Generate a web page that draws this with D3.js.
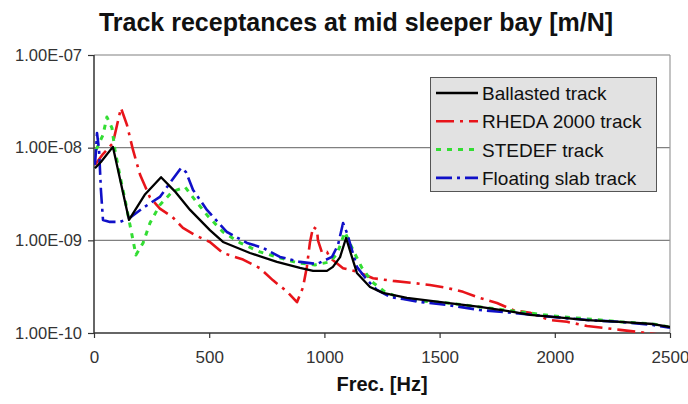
<!DOCTYPE html>
<html><head><meta charset="utf-8">
<script src="https://cdn.jsdelivr.net/npm/d3@7"></script>
<style>
html,body{margin:0;padding:0;background:#fff;}
svg{display:block;font-family:"Liberation Sans",Arial,sans-serif;}
</style></head>
<body><svg id="c" width="688" height="404"></svg>
<script>
// ---- data ----
const seriesNames = ["Ballasted track","RHEDA 2000 track","STEDEF track","Floating slab track"];
const xTicks = [0,500,1000,1500,2000,2500];
const yTicks = [1e-10,1e-9,1e-8,1e-7];
const yTickLabels = ["1.00E-10","1.00E-09","1.00E-08","1.00E-07"];

const ballasted = [[4,6.0e-9],[30,7.0e-9],[82,1.02e-8],[152,1.66e-9],[220,3.1e-9],[291,4.8e-9],[350,3.4e-9],[417,2.13e-9],[503,1.29e-9],[560,9.6e-10],[677,7.3e-10],[794,5.85e-10],[894,5.04e-10],[951,4.68e-10],[1011,4.68e-10],[1037,5.17e-10],[1068,6.6e-10],[1094,1.06e-9],[1141,4.45e-10],[1198,3.14e-10],[1254,2.71e-10],[1358,2.40e-10],[1532,2.11e-10],[1675,1.91e-10],[1819,1.69e-10],[1892,1.57e-10],[1992,1.49e-10],[2140,1.38e-10],[2283,1.32e-10],[2426,1.25e-10],[2500,1.16e-10]];

const rheda = [[4,6.5e-9],[35,8.3e-9],[82,1.12e-8],[117,2.68e-8],[143,1.76e-8],[169,9.5e-9],[200,5.1e-9],[243,2.9e-9],[286,2.2e-9],[339,1.8e-9],[386,1.36e-9],[438,1.14e-9],[503,9.6e-10],[560,7.3e-10],[647,6.2e-10],[720,5.0e-10],[777,3.7e-10],[838,2.8e-10],[881,2.15e-10],[907,3.1e-10],[924,5.2e-10],[937,9.4e-10],[951,1.4e-9],[968,1.3e-9],[972,1.0e-9],[990,7.3e-10],[1011,7.5e-10],[1024,6.5e-10],[1081,5.0e-10],[1141,4.6e-10],[1211,3.9e-10],[1298,3.65e-10],[1385,3.47e-10],[1458,3.3e-10],[1532,3.07e-10],[1602,2.78e-10],[1675,2.39e-10],[1749,2.11e-10],[1819,1.77e-10],[1892,1.65e-10],[1979,1.38e-10],[2053,1.32e-10],[2140,1.19e-10],[2209,1.14e-10],[2283,1.08e-10],[2357,1.03e-10],[2500,9.3e-11]];

const stedef = [[9,9.45e-9],[39,1.37e-8],[56,2.14e-8],[78,1.63e-8],[91,9.45e-9],[113,4.9e-9],[135,2.73e-9],[156,1.47e-9],[182,6.96e-10],[213,9.38e-10],[243,1.54e-9],[286,2.41e-9],[339,3.33e-9],[395,3.77e-9],[438,2.73e-9],[490,1.88e-9],[560,1.23e-9],[634,9.4e-10],[720,7.5e-10],[807,6.46e-10],[885,5.71e-10],[959,5.43e-10],[1024,5.85e-10],[1055,7.13e-10],[1089,1.23e-9],[1124,7.88e-10],[1163,5.04e-10],[1207,3.56e-10],[1263,2.78e-10],[1328,2.39e-10],[1415,2.22e-10],[1532,2.11e-10],[1675,1.91e-10],[1819,1.73e-10],[1992,1.53e-10],[2140,1.42e-10],[2283,1.32e-10],[2426,1.25e-10],[2500,1.16e-10]];

const floating = [[4,6.51e-9],[9,9.45e-9],[13,1.44e-8],[22,9.45e-9],[30,3.5e-9],[39,1.66e-9],[69,1.58e-9],[113,1.58e-9],[156,1.75e-9],[213,2.24e-9],[286,2.94e-9],[339,4.48e-9],[378,6.04e-9],[399,5.47e-9],[430,3.5e-9],[490,2.13e-9],[577,1.23e-9],[664,9.38e-10],[734,8.28e-10],[807,6.62e-10],[894,5.85e-10],[968,5.56e-10],[1033,6.62e-10],[1059,8.9e-10],[1081,1.54e-9],[1098,1.2e-9],[1141,5.17e-10],[1185,3.74e-10],[1228,2.92e-10],[1285,2.45e-10],[1341,2.33e-10],[1415,2.16e-10],[1532,2.01e-10],[1675,1.77e-10],[1819,1.65e-10],[1992,1.49e-10],[2140,1.38e-10],[2283,1.32e-10],[2426,1.22e-10],[2500,1.14e-10]];

const seriesData = [ballasted, rheda, stedef, floating];
const colors = ["#000000","#e8141a","#33dd33","#1010c8"];
const dashes = [null,"18,6,3,6","5,6","16,5,3,5"];
const widths = [2.3,2.6,3,2.6];

// ---- layout ----
const svg = d3.select("#c");
const L = 94, R = 670, T = 55, B = 333;
const x = d3.scaleLinear().domain([0,2500]).range([L,R]);
const y = d3.scaleLog().domain([1e-10,1e-7]).range([B,T]);

svg.append("text").attr("x",356).attr("y",31).attr("text-anchor","middle")
  .attr("font-size",25).attr("font-weight","bold").attr("fill","#111")
  .text("Track receptances at mid sleeper bay [m/N]");

// gridlines
svg.append("g").selectAll("line").data(yTicks.filter(v=>v>1e-10)).join("line")
  .attr("x1",L).attr("x2",R).attr("y1",d=>y(d)).attr("y2",d=>y(d))
  .attr("stroke","#808080").attr("stroke-width",1.2);
// right border
svg.append("line").attr("x1",R).attr("x2",R).attr("y1",T).attr("y2",B)
  .attr("stroke","#9a9a9a").attr("stroke-width",1.2);

// axes
const yAxis = d3.axisLeft(y).tickValues(yTicks).tickSize(6).tickPadding(6)
  .tickFormat((d,i)=>yTickLabels[i]);
const gy = svg.append("g").attr("transform",`translate(${L},0)`).call(yAxis);
const xAxis = d3.axisBottom(x).tickValues(xTicks).tickSize(5).tickPadding(13)
  .tickFormat(d3.format("d"));
const gx = svg.append("g").attr("transform",`translate(0,${B})`).call(xAxis);
[gx,gy].forEach(g=>{
  g.select(".domain").attr("stroke","#333").attr("stroke-width",1.5);
  g.selectAll(".tick line").attr("stroke","#333").attr("stroke-width",1.2);
  g.selectAll(".tick text").attr("fill","#333")
    .attr("font-family","'Liberation Sans',Arial,sans-serif");
});
gy.selectAll(".tick text").attr("font-size",16.5);
gx.selectAll(".tick text").attr("font-size",17);
gy.select(".domain").attr("d",`M0,${T}V${B}`);
gx.select(".domain").attr("d",`M${L},0H${R}`);

svg.append("text").attr("x",382).attr("y",391).attr("text-anchor","middle")
  .attr("font-size",20).attr("font-weight","bold").attr("fill","#111").text("Frec. [Hz]");

// clip
svg.append("clipPath").attr("id","pa").append("rect")
  .attr("x",L).attr("y",T).attr("width",R-L).attr("height",B-T);

const line = d3.line().x(d=>x(d[0])).y(d=>y(d[1]));
const order = [1,2,3,0];
const gl = svg.append("g").attr("clip-path","url(#pa)");
order.forEach(i=>{
  gl.append("path").attr("d",line(seriesData[i])).attr("fill","none")
    .attr("stroke",colors[i]).attr("stroke-width",widths[i])
    .attr("stroke-dasharray",dashes[i]).attr("stroke-linejoin","round");
});

// legend
const lg = svg.append("g");
lg.append("rect").attr("x",430.5).attr("y",77.5).attr("width",226).attr("height",114)
  .attr("fill","#e2e2e2").attr("stroke","#555").attr("stroke-width",1);
seriesNames.forEach((n,i)=>{
  const cy = 93 + i*28.3;
  lg.append("line").attr("x1",436).attr("x2",478).attr("y1",cy).attr("y2",cy)
    .attr("stroke",colors[i]).attr("stroke-width",widths[i]).attr("stroke-dasharray",dashes[i]);
  lg.append("text").attr("x",482).attr("y",cy+7).attr("font-size",19).attr("fill","#111").text(n);
});
</script></body></html>
